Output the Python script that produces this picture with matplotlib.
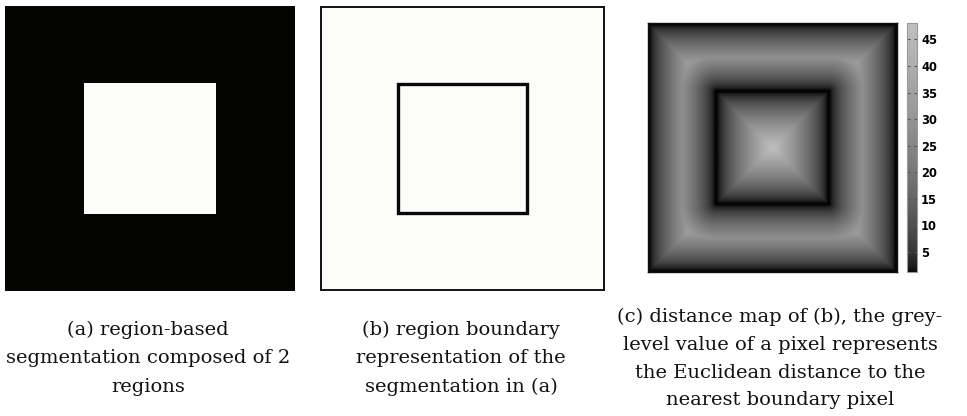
import numpy as np
import matplotlib
matplotlib.use("Agg")
import matplotlib.pyplot as plt
from matplotlib.colors import LinearSegmentedColormap
from matplotlib.patches import Rectangle

# ---- data ----
image_size = 210            # pixels of the synthetic image
inner_lo = 57               # inner square start (pixel)
inner_hi = 153              # inner square end (pixel)
cbar_ticks = [5, 10, 15, 20, 25, 30, 35, 40, 45]
cbar_range = [1.2, 48.1]
caption_a = ["(a) region-based", "segmentation composed of 2", "regions"]
caption_b = ["(b) region boundary", "representation of the", "segmentation in (a)"]
caption_c = ["(c) distance map of (b), the grey-", "level value of a pixel represents",
             "the Euclidean distance to the", "nearest boundary pixel"]

# ---- derived images ----
N = image_size
seg = np.zeros((N, N))
seg[inner_lo:inner_hi, inner_lo:inner_hi] = 1

yy, xx = np.mgrid[0:N, 0:N].astype(float)
d_outer = np.minimum.reduce([xx, yy, N - 1 - xx, N - 1 - yy])
lo, hi = inner_lo, inner_hi - 1
inside = (xx >= lo) & (xx <= hi) & (yy >= lo) & (yy <= hi)
d_in = np.minimum.reduce([xx - lo, hi - xx, yy - lo, hi - yy])
dx = np.maximum.reduce([lo - xx, np.zeros_like(xx), xx - hi])
dy = np.maximum.reduce([lo - yy, np.zeros_like(yy), yy - hi])
d_out = np.sqrt(dx ** 2 + dy ** 2)
d_inner = np.where(inside, d_in, d_out)
dist = np.minimum(d_outer, d_inner)

W, H = 967, 416
fig = plt.figure(figsize=(W / 100, H / 100), dpi=100)
fig.patch.set_facecolor("white")

def ax_px(x0, y0, x1, y1):
    return fig.add_axes([x0 / W, 1 - y1 / H, (x1 - x0) / W, (y1 - y0) / H])

# panel a
axa = ax_px(5, 6, 295, 291)
cmap_a = LinearSegmentedColormap.from_list("bw", ["#040503", "#fcfcfa"])
axa.imshow(seg, cmap=cmap_a, aspect="auto", interpolation="nearest")
axa.set_axis_off()

# panel b
axb = ax_px(321, 7, 604, 290)
axb.set_facecolor("#fcfcfa")
axb.set_xlim(-0.5, N - 0.5)
axb.set_ylim(N - 0.5, -0.5)
axb.add_patch(Rectangle((inner_lo - 0.5, inner_lo - 0.5), inner_hi - inner_lo, inner_hi - inner_lo,
                        fill=False, edgecolor="#080808", linewidth=2.4))
for s in axb.spines.values():
    s.set_linewidth(1.4)
    s.set_color("#111111")
axb.set_xticks([])
axb.set_yticks([])

# panel c
axc = ax_px(648, 23, 897, 272)
cmap_c = LinearSegmentedColormap.from_list("g", ["#050505", "#c0c0c0"], gamma=0.55)
im = axc.imshow(dist, cmap=cmap_c, vmin=cbar_range[0], vmax=cbar_range[1],
                aspect="auto", interpolation="bilinear")
axc.set_xticks([])
axc.set_yticks([])
for s in axc.spines.values():
    s.set_linewidth(1.0)
    s.set_color("#111111")

cax = ax_px(907, 23, 917, 272)
cb = fig.colorbar(im, cax=cax, ticks=cbar_ticks)
cb.outline.set_edgecolor("#999999")
cb.outline.set_linewidth(0.8)
cax.tick_params(direction="in", length=2.5, width=0.8, color="#555555",
                left=True, right=True, labelsize=8.3, pad=3)
for t in cax.get_yticklabels():
    t.set_fontweight("bold")
    t.set_fontfamily("DejaVu Sans")

# captions
def caption(lines, xc, baselines):
    for line, yb in zip(lines, baselines):
        fig.text(xc / W, 1 - yb / H, line, ha="center", va="baseline",
                 fontsize=14, family="DejaVu Serif", color="#111111")

caption(caption_a, 148, [335, 363, 392])
caption(caption_b, 461, [335, 363, 392])
caption(caption_c, 780, [322, 350, 378, 405])

fig.savefig("out.png", dpi=100)
